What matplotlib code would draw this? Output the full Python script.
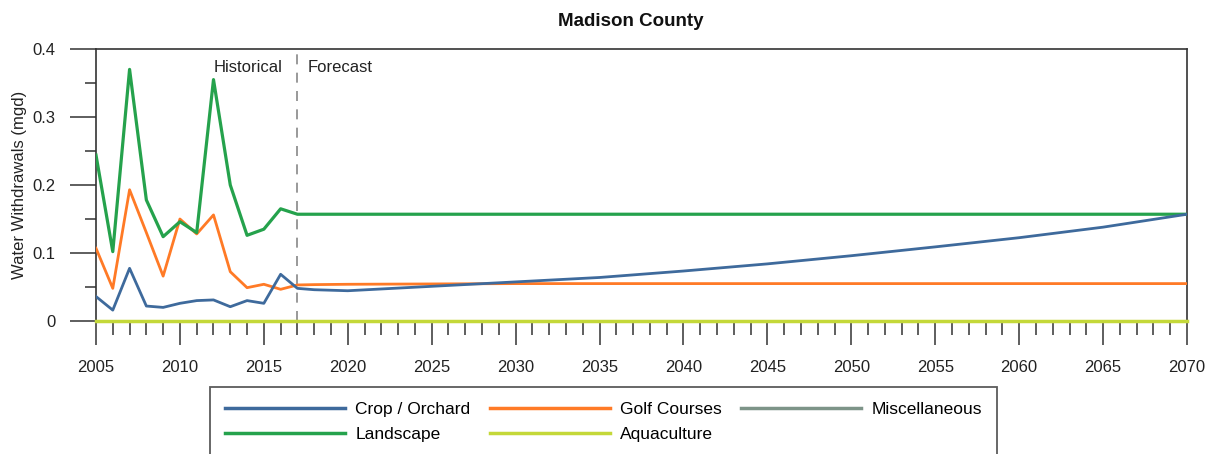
import matplotlib
matplotlib.use("Agg")
import matplotlib.pyplot as plt
from matplotlib.ticker import MultipleLocator

plt.rcParams['font.family'] = ['Liberation Sans', 'DejaVu Sans']

# ---- data ----
hist_years = [2005, 2006, 2007, 2008, 2009, 2010, 2011, 2012, 2013, 2014, 2015, 2016, 2017]
crop_hist = [0.036, 0.016, 0.0775, 0.022, 0.020, 0.026, 0.030, 0.031, 0.021, 0.030, 0.026, 0.0687, 0.048]
golf_hist = [0.107, 0.048, 0.193, 0.130, 0.066, 0.150, 0.128, 0.156, 0.0725, 0.049, 0.054, 0.0466, 0.053]
land_hist = [0.244, 0.102, 0.370, 0.178, 0.124, 0.146, 0.130, 0.355, 0.200, 0.126, 0.135, 0.165, 0.157]

fc_years = [2017, 2018, 2020, 2025, 2030, 2035, 2040, 2045, 2050, 2055, 2060, 2065, 2070]
crop_fc = [0.048, 0.046, 0.0445, 0.051, 0.0575, 0.064, 0.0735, 0.084, 0.096, 0.109, 0.1225, 0.138, 0.157]
golf_fc = [0.053, 0.0535, 0.054, 0.0545, 0.055, 0.055, 0.055, 0.055, 0.055, 0.055, 0.055, 0.055, 0.055]
land_fc = [0.157, 0.157, 0.157, 0.157, 0.157, 0.157, 0.157, 0.157, 0.157, 0.157, 0.157, 0.157, 0.157]

all_years = [2005, 2070]
misc_vals = [0.0, 0.0]
aqua_vals = [0.0, 0.0]

series_names = ["Crop / Orchard", "Golf Courses", "Miscellaneous", "Landscape", "Aquaculture"]
colors = {"Crop / Orchard": "#3e6a9c", "Golf Courses": "#ff7a26",
          "Miscellaneous": "#7d9488", "Landscape": "#25a24c", "Aquaculture": "#c4d839"}

forecast_start = 2017

# ---- figure ----
fig = plt.figure(figsize=(12.13, 4.54), dpi=100)
ax = fig.add_axes([96/1213, 1-321/454, (1187-96)/1213, (321-49)/454])

lw = 2.0
h_crop, = ax.plot(hist_years + fc_years[1:], crop_hist + crop_fc[1:], color=colors["Crop / Orchard"], lw=lw, zorder=4)
h_golf, = ax.plot(hist_years + fc_years[1:], golf_hist + golf_fc[1:], color=colors["Golf Courses"], lw=lw, zorder=3)
h_misc, = ax.plot(all_years, misc_vals, color=colors["Miscellaneous"], lw=lw, zorder=2)
h_land, = ax.plot(hist_years + fc_years[1:], land_hist + land_fc[1:], color=colors["Landscape"], lw=lw+0.3, zorder=3)
h_aqua, = ax.plot(all_years, aqua_vals, color=colors["Aquaculture"], lw=lw+0.5, zorder=5, clip_on=False)

ax.axvline(forecast_start, color="#888888", lw=1.2, ls=(0, (6, 5)), zorder=1)
ax.text(forecast_start - 0.9, 0.373, "Historical", ha="right", va="center", fontsize=12, color="#222222")
ax.text(forecast_start + 0.6, 0.373, "Forecast", ha="left", va="center", fontsize=12, color="#222222")

ax.set_xlim(2005, 2070)
ax.set_ylim(0, 0.4)
ax.xaxis.set_major_locator(MultipleLocator(5))
ax.xaxis.set_minor_locator(MultipleLocator(1))
ax.yaxis.set_major_locator(MultipleLocator(0.1))
ax.yaxis.set_minor_locator(MultipleLocator(0.05))
ax.set_yticks([0, 0.1, 0.2, 0.3, 0.4])
ax.set_yticklabels(["0", "0.1", "0.2", "0.3", "0.4"])

tc = "#333333"
ax.tick_params(axis="x", which="major", direction="out", length=17.3, width=1.1, pad=10.5, labelsize=12, color=tc, labelcolor="#222222")
ax.tick_params(axis="x", which="minor", direction="out", length=10, width=1.1, color=tc)
ax.tick_params(axis="y", which="major", direction="out", length=18.7, width=1.1, pad=10.5, labelsize=12, color=tc, labelcolor="#222222")
ax.tick_params(axis="y", which="minor", direction="out", length=8, width=1.1, color=tc)
for s in ax.spines.values():
    s.set_color(tc)
    s.set_linewidth(1.2)

ax.set_ylabel("Water Withdrawals (mgd)", fontsize=12, color="#222222")
ax.yaxis.set_label_coords(-0.063, 0.5)

fig.text(0.52, 1-21/454, "Madison County", ha="center", va="center", fontsize=13.5, fontweight="bold", color="#111111")

leg = fig.legend([h_crop, h_land, h_golf, h_aqua, h_misc],
                 ["Crop / Orchard", "Landscape", "Golf Courses", "Aquaculture", "Miscellaneous"],
                 ncol=3, loc="upper left", bbox_to_anchor=(210/1213, 1-387/454),
                 fontsize=12.5, frameon=True, fancybox=False, edgecolor="#333333",
                 handlelength=6.9, handletextpad=0.63, columnspacing=1.1,
                 borderpad=0.85, labelspacing=0.58, borderaxespad=0)
leg.get_frame().set_linewidth(1.3)
for h in leg.legend_handles:
    h.set_linewidth(2.5)

fig.savefig("out.png", dpi=100)
